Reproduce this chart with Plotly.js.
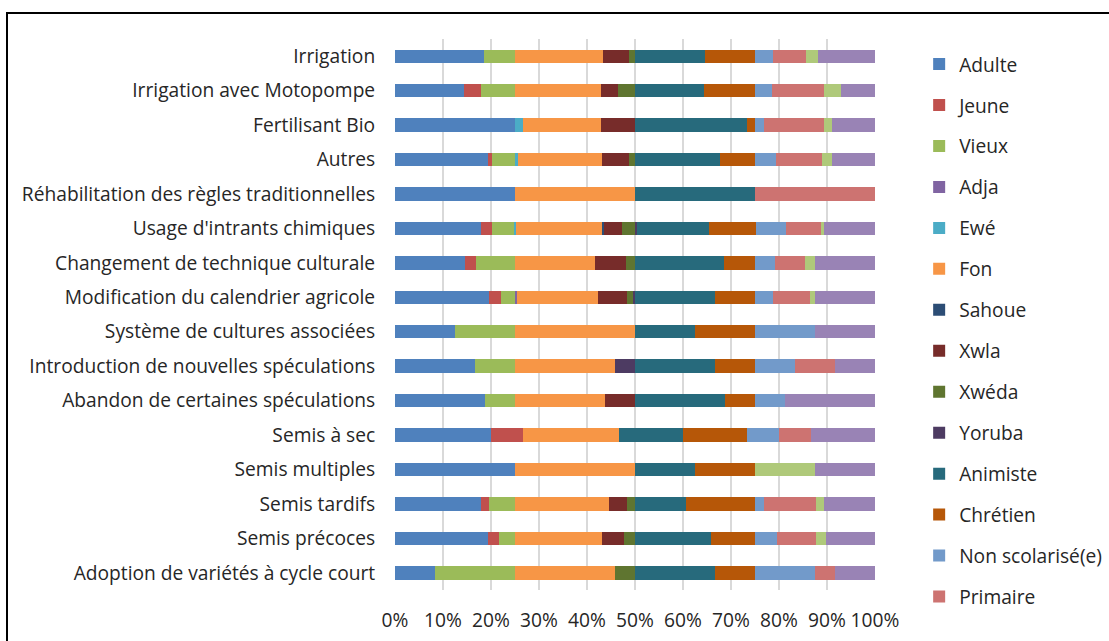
<!DOCTYPE html>
<html>
<head>
<meta charset="utf-8">
<script src="https://cdn.plot.ly/plotly-3.0.1.min.js"></script>
<style>
  html, body { margin: 0; padding: 0; background: #ffffff; }
  #chart { position: absolute; left: 0; top: 0; width: 1109px; height: 641px; }
  #frame { position: absolute; left: 6px; top: 12px; width: 1200px; height: 700px;
           border-left: 2.5px solid #000; border-top: 2.5px solid #000; pointer-events: none; }
</style>
</head>
<body>
<div id="chart"></div>
<div id="frame"></div>
<script>
const categories = [
  "Irrigation",
  "Irrigation avec Motopompe",
  "Fertilisant Bio",
  "Autres",
  "Réhabilitation des règles traditionnelles",
  "Usage d'intrants chimiques",
  "Changement de technique culturale",
  "Modification du calendrier agricole",
  "Système de cultures associées",
  "Introduction de nouvelles spéculations",
  "Abandon de certaines spéculations",
  "Semis à sec",
  "Semis multiples",
  "Semis tardifs",
  "Semis précoces",
  "Adoption de variétés à cycle court"
];

const adulte     = [18.5, 14.3, 25.0, 19.4, 25.0, 17.9, 14.6, 19.6, 12.5, 16.7, 18.75, 20.0, 25.0, 17.9, 19.4, 8.3];
const jeune      = [0, 3.6, 0, 0.8, 0, 2.4, 2.2, 2.4, 0, 0, 0, 6.7, 0, 1.8, 2.3, 0];
const vieux      = [6.5, 7.1, 0, 4.8, 0, 4.4, 8.2, 3.0, 12.5, 8.3, 6.25, 0, 0, 5.3, 3.3, 16.7];
const adja       = [0, 0, 0, 0, 0, 0, 0, 0.5, 0, 0, 0, 0, 0, 0, 0, 0];
const ewe        = [0, 0, 1.7, 0.7, 0, 0.5, 0, 0, 0, 0, 0, 0, 0, 0, 0, 0];
const fon        = [18.3, 17.9, 16.2, 17.5, 25.0, 17.9, 16.7, 16.7, 25.0, 20.8, 18.75, 20.0, 25.0, 19.6, 18.2, 20.8];
const sahoue     = [0, 0, 0, 0, 0, 0.5, 0, 0, 0, 0, 0, 0, 0, 0, 0, 0];
const xwla       = [5.5, 3.6, 7.1, 5.6, 0, 3.7, 6.4, 6.1, 0, 0, 6.25, 0, 0, 3.7, 4.6, 0];
const xweda      = [1.2, 3.6, 0, 1.3, 0, 2.6, 1.9, 1.2, 0, 0, 0, 0, 0, 1.7, 2.2, 4.2];
const yoruba     = [0, 0, 0, 0, 0, 0.5, 0, 0.5, 0, 4.2, 0, 0, 0, 0, 0, 0];
const animiste   = [14.6, 14.3, 23.3, 17.7, 25.0, 15.1, 18.6, 16.7, 12.5, 16.7, 18.75, 13.3, 12.5, 10.6, 16.0, 16.7];
const chretien   = [10.4, 10.7, 1.7, 7.3, 0, 9.7, 6.4, 8.3, 12.5, 8.3, 6.25, 13.3, 12.5, 14.4, 9.0, 8.3];
const nonScol    = [3.8, 3.6, 1.9, 4.3, 0, 6.3, 4.2, 3.7, 12.5, 8.3, 6.25, 6.7, 0, 1.9, 4.7, 12.5];
const primaire   = [6.8, 10.7, 12.4, 9.7, 25.0, 7.3, 6.2, 7.7, 0, 8.3, 0, 6.7, 0, 10.8, 8.0, 4.2];
const secondaire = [2.5, 3.6, 1.7, 2.0, 0, 0.5, 2.2, 1.2, 0, 0, 0, 0, 12.5, 1.7, 2.2, 0];
const superieur  = [11.9, 7.1, 9.0, 9.0, 0, 10.7, 12.4, 12.4, 12.5, 8.3, 18.75, 13.3, 12.5, 10.7, 10.2, 8.3];

const xTickVals = [0, 10, 20, 30, 40, 50, 60, 70, 80, 90, 100];
const xTickText = ["0%", "10%", "20%", "30%", "40%", "50%", "60%", "70%", "80%", "90%", "100%"];

const series = [
  {name: "Adulte", values: adulte, color: "#4F81BD", legend: true},
  {name: "Jeune", values: jeune, color: "#C0504D", legend: true},
  {name: "Vieux", values: vieux, color: "#9BBB59", legend: true},
  {name: "Adja", values: adja, color: "#8064A2", legend: true},
  {name: "Ewé", values: ewe, color: "#4BACC6", legend: true},
  {name: "Fon", values: fon, color: "#F79646", legend: true},
  {name: "Sahoue", values: sahoue, color: "#2C4D75", legend: true},
  {name: "Xwla", values: xwla, color: "#772C2A", legend: true},
  {name: "Xwéda", values: xweda, color: "#5F7530", legend: true},
  {name: "Yoruba", values: yoruba, color: "#4D3B62", legend: true},
  {name: "Animiste", values: animiste, color: "#276A7C", legend: true},
  {name: "Chrétien", values: chretien, color: "#B65708", legend: true},
  {name: "Non scolarisé(e)", values: nonScol, color: "#729ACA", legend: true},
  {name: "Primaire", values: primaire, color: "#CD7371", legend: true},
  {name: "Secondaire", values: secondaire, color: "#AFC97A", legend: false},
  {name: "Supérieur", values: superieur, color: "#9983B5", legend: false}
];

const FONT = "'Open Sans', 'Liberation Sans', sans-serif";
const FS = 19.2;

const traces = series.map((s, i) => ({
  type: "bar",
  orientation: "h",
  name: s.name,
  x: s.values,
  y: categories,
  marker: {color: s.color, line: {width: 0}},
  showlegend: s.legend,
  legendgroup: "g" + i,
  hoverinfo: "name+x"
}));

const layout = {
  width: 1109,
  height: 641,
  margin: {l: 395, r: 234, t: 39, b: 51, pad: 0, autoexpand: false},
  paper_bgcolor: "rgba(0,0,0,0)",
  plot_bgcolor: "#ffffff",
  barmode: "stack",
  barnorm: "percent",
  bargap: 0.61,
  font: {family: FONT, size: FS, color: "#262626"},
  xaxis: {
    range: [0, 100],
    tickvals: xTickVals,
    ticktext: xTickText,
    showgrid: true,
    gridcolor: "#D9D9D9",
    gridwidth: 2,
    zeroline: false,
    showline: false,
    ticks: "outside",
    ticklen: 13,
    tickcolor: "rgba(0,0,0,0)",
    tickfont: {family: FONT, size: FS, color: "#262626"},
    fixedrange: true
  },
  yaxis: {
    type: "category",
    autorange: "reversed",
    showgrid: false,
    zeroline: false,
    showline: false,
    ticks: "outside",
    ticklen: 15,
    tickcolor: "rgba(0,0,0,0)",
    tickfont: {family: FONT, size: FS, color: "#262626"},
    fixedrange: true
  },
  legend: {
    x: 1.092,
    xanchor: "left",
    y: 0.989,
    yanchor: "top",
    xref: "paper",
    yref: "paper",
    traceorder: "grouped",
    tracegroupgap: 13,
    maxheight: 640,
    font: {family: FONT, size: FS, color: "#262626"},
    bgcolor: "rgba(0,0,0,0)",
    itemclick: false,
    itemdoubleclick: false
  },
  showlegend: true
};

Plotly.newPlot("chart", traces, layout, {displayModeBar: false, staticPlot: true});
</script>
</body>
</html>
